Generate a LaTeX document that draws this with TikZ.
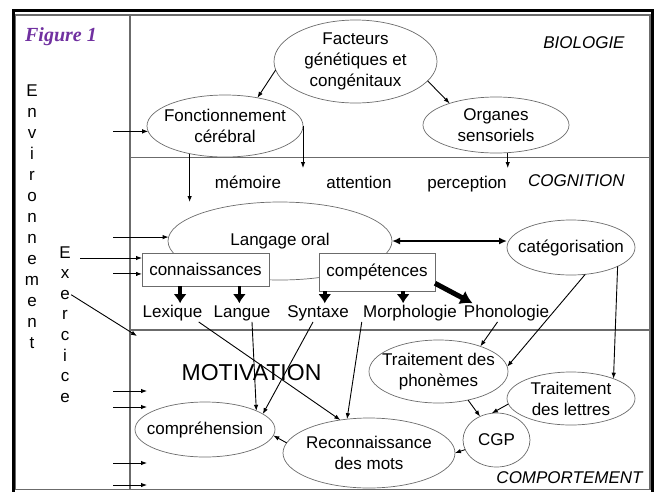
\documentclass[tikz,border=0pt]{standalone}
\usepackage{fontspec}
\setmainfont{Liberation Sans}
\newfontfamily\figfont{Liberation Serif}
\usetikzlibrary{arrows.meta,shapes.geometric}
\definecolor{figpurple}{HTML}{7030A0}
\definecolor{linegray}{gray}{0.42}

\begin{document}
\begin{tikzpicture}[x=1pt,y=-1pt,line width=0.9pt,
    font=\fontsize{17}{21}\selectfont,
    >={Latex[length=6pt,width=4.5pt]},
    bubble/.style 2 args={ellipse,draw=linegray,line width=0.7pt,inner sep=-90pt,
      outer sep=0pt,minimum width=#1,minimum height=#2,align=center},
    kbox/.style 2 args={rectangle,draw=linegray,line width=0.8pt,fill=white,
      inner sep=0pt,outer sep=0pt,minimum width=#1,minimum height=#2},
    word/.style={anchor=base,inner sep=1pt},
    zone/.style={font=\fontsize{17}{21}\selectfont\itshape,anchor=base east,inner sep=0pt},
    fat/.style={line width=3.5pt,-{Latex[length=9pt,width=13pt]}},
    fatter/.style={line width=5pt,-{Latex[length=12pt,width=15pt]}}]
  \useasboundingbox (0,0) rectangle (659,491);

  \draw[line width=3pt] (13.5,493) |- (652,10.5) -- (652,493);
  \draw[linegray,line width=1.2pt] (15.5,15) rectangle (650,489.5);
  \draw[linegray,line width=1.5pt] (130,15) -- (130,489.5);
  \draw[linegray,line width=1.2pt] (130,157.5) -- (650,157.5) (130,330) -- (650,330);

  \node[text=figpurple,font=\figfont\fontsize{20}{24}\selectfont\bfseries\itshape,anchor=base]
    (fig) at (61,41) {Figure 1};
  \foreach \l [count=\i] in {E,n,v,i,r,o,n,n,e,m,e,n,t}
    \node[word] (env-\i) at (32,75+21*\i) {\l};
  \foreach \l [count=\i] in {E,x,e,r,c,i,c,e}
    \node[word] (ex-\i) at (65,237.4+20.6*\i) {\l};

  \node[bubble={163pt}{83pt}] (genes) at (355.5,61.5) {Facteurs\\génétiques et\\congénitaux};
  \node[bubble={156pt}{62pt}] (cortex) at (225,126) {Fonctionnement\\cérébral};
  \node[bubble={146pt}{56pt}] (senses) at (496,125) {Organes\\sensoriels};

  \node[word] (memory) at (248,188.5) {mémoire};
  \node[word] (attention) at (359,188.5) {attention};
  \node[word] (perception) at (467,188.5) {perception};

  \node[zone] (bio) at (625,48) {BIOLOGIE};
  \node[zone] (cogn) at (625,186) {COGNITION};
  \node[zone] (behav) at (643,483) {COMPORTEMENT};
  \node[anchor=base,font=\fontsize{23}{27}\selectfont] (motiv) at (251.5,380) {MOTIVATION};

  \node[bubble={224pt}{78pt}] (oral) at (280,241) {Langage oral};
  \node[bubble={128pt}{55pt}] (categ) at (571,247.5) {catégorisation};
  \node[kbox={127pt}{33pt}] (know) at (205.5,269.5) {connaissances};
  \node[kbox={116pt}{38pt}] (skill) at (377,272) {compétences};

  \node[word] (lex) at (172.5,317) {Lexique};
  \node[word] (lang) at (242,317) {Langue};
  \node[word] (syn) at (318,317) {Syntaxe};
  \node[word] (morph) at (410,317) {Morphologie};
  \node[word] (phono) at (506.5,317) {Phonologie};

  \node[bubble={139pt}{63pt}] (phon) at (438.5,371.5) {Traitement des\\phonèmes};
  \node[bubble={128pt}{53pt}] (letters) at (571,398.5) {Traitement\\des lettres};
  \node[bubble={67pt}{54pt}] (cgp) at (496.5,440) {CGP};
  \node[bubble={172pt}{70pt}] (words) at (369,453) {Reconnaissance\\des mots};
  \node[bubble={140pt}{55pt}] (compr) at (205,429.5) {compréhension};

  \coordinate (cog) at (0,168);
  \coordinate (inlet) at (113,0);
  \coordinate (drift) at (137,336);

  \draw[->] (genes.186) -- (cortex.41);
  \draw[->] (genes.345) -- (senses.155);
  \draw[->] (cortex.218) -- (cortex.218 |- oral.north);
  \draw[->] (cortex.east) -- (cortex.east |- cog);
  \draw[->] (senses.293) -- (senses.293 |- cog);

  \draw[->] (cortex.184 -| inlet) -- (cortex.184);
  \draw[->] (oral.178 -| inlet) -- (oral.178);
  \draw[->,shorten <=8pt] (ex-1.base east) -- (ex-1.base east -| know.west);
  \draw[->] (know.184 -| inlet) -- (know.184);
  \draw[->] (ex-3.east) -- (drift);
  \foreach \y in {391,407,463,485}
    \draw[->] (113,\y) -- (147,\y);

  \draw[<->,line width=1.8pt,>={Latex[length=8pt,width=7pt]}] (oral.east) -- (oral.east -| categ.west);

  \draw[fat] (know.213) -- (know.213 |- lex.north);
  \draw[fat] (know.334) -- (know.334 |- lex.north);
  \draw[fat] (skill.200) -- (skill.200 |- lex.north);
  \draw[fat] (skill.324) -- (skill.324 |- lex.north);
  \draw[fatter] (skill.349) -- ([xshift=10pt]phono.north west);

  \draw[->] ([xshift=-5pt]lex.south east) -- (words.131);
  \draw[->] ([xshift=10pt]lang.south) -- (compr.20);
  \draw[->] ([xshift=-5pt]syn.south) -- (compr.15);
  \draw[->] (morph.south west) -- (words.123);
  \draw[->] ([xshift=-9pt]phono.south) -- (phon.31);
  \draw[->] (categ.298) -- (phon.4);
  \draw[->] (categ.338) -- (letters.25);
  \draw[->] (phon.316) -- (cgp.125);
  \draw[->] (letters.185) -- (cgp.100);
  \draw[->] (cgp.197) -- (words.east);
  \draw[->] (words.173) -- (compr.355);
\end{tikzpicture}
\end{document}
